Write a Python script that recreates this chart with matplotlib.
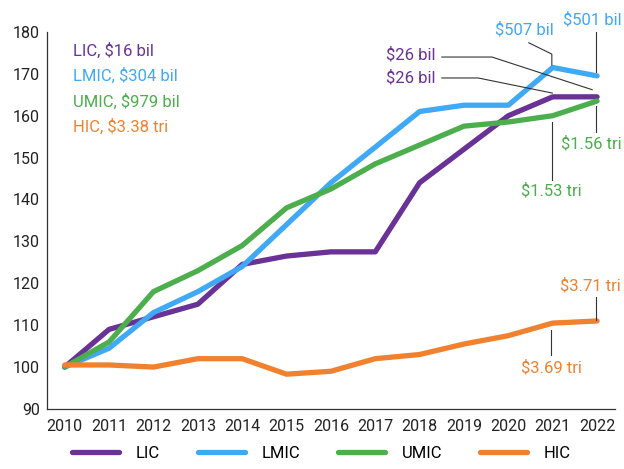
import matplotlib.pyplot as plt
from matplotlib.lines import Line2D

years = list(range(2010, 2023))
lic = [100, 109, 112, 115, 124.5, 126.5, 127.5, 127.5, 144, 152, 160, 164.5, 164.5]
lmic = [100, 104.5, 113, 118, 124, 134, 144, 152.5, 161, 162.5, 162.5, 171.5, 169.5]
umic = [100, 106, 118, 123, 129, 138, 142.5, 148.5, 153, 157.5, 158.5, 160, 163.5]
hic = [100.5, 100.5, 100, 102, 102, 98.3, 99, 102, 103, 105.5, 107.5, 110.5, 111]

names = ["LIC", "LMIC", "UMIC", "HIC"]
start_labels = ["LIC, $16 bil", "LMIC, $304 bil", "UMIC, $979 bil", "HIC, $3.38 tri"]
colors = ["#6a3196", "#3fa9f5", "#4cae4c", "#f0812f"]
series = [lic, lmic, umic, hic]

plt.rcParams['font.family'] = ['Roboto', 'DejaVu Sans']

fig = plt.figure(figsize=(6.24, 4.69), dpi=100)
ax = fig.add_axes([0.0753, 0.128, 0.91, 0.804])

for s, c in zip(series, colors):
    ax.plot(years, s, color=c, lw=3.8, solid_capstyle='round', solid_joinstyle='round')

ax.set_xlim(2009.6, 2022.4)
ax.set_ylim(90, 180)
ax.set_yticks(range(90, 181, 10))
ax.set_xticks(years)
ax.tick_params(length=0, labelsize=11.5, pad=7, colors='#222222')
ax.tick_params(axis='y', pad=5)
for sp in ['top', 'right']:
    ax.spines[sp].set_visible(False)
for sp in ['left', 'bottom']:
    ax.spines[sp].set_color('#333333')
    ax.spines[sp].set_linewidth(0.9)

# top-left labels
for i, (t, c) in enumerate(zip(start_labels, colors)):
    ax.text(2010.18, 175.5 - i * 6.05, t, color=c, fontsize=12, va='center', ha='left')


def ann(text, color, xytext, path):
    ax.text(xytext[0], xytext[1], text, color=color, fontsize=12,
            ha='center', va='center', clip_on=False)
    ax.plot([p[0] for p in path], [p[1] for p in path], color='#333333', lw=0.8,
            clip_on=False)


ann("$507 bil", colors[1], (2020.35, 180.5),
    [(2020.46, 177.4), (2020.98, 174.7), (2020.98, 172.1)])
ann("$501 bil", colors[1], (2021.9, 182.9),
    [(2021.97, 180.0), (2021.97, 170.5)])
ann("$26 bil", colors[0], (2017.8, 174.5),
    [(2018.5, 174.0), (2019.63, 174.0), (2021.89, 166.2)])
ann("$26 bil", colors[0], (2017.8, 169.0),
    [(2018.5, 169.0), (2019.32, 169.0), (2020.99, 165.4)])
ann("$1.56 tri", colors[2], (2021.86, 153.4),
    [(2021.97, 162.3), (2021.97, 156.1)])
ann("$1.53 tri", colors[2], (2020.96, 142.1),
    [(2020.99, 158.5), (2020.99, 144.7)])
ann("$3.71 tri", colors[3], (2021.86, 119.4),
    [(2021.97, 116.8), (2021.97, 111.3)])
ann("$3.69 tri", colors[3], (2020.98, 99.8),
    [(2020.97, 108.9), (2020.97, 102.9)])

handles = [Line2D([0], [0], color=c, lw=3.8, solid_capstyle='round') for c in colors]
fig.legend(handles, names, loc='lower center', bbox_to_anchor=(0.515, -0.015), ncol=4,
           frameon=False, fontsize=12, handlelength=2.8, columnspacing=2.3,
           handletextpad=1.0)

fig.savefig("out.png", dpi=100)
